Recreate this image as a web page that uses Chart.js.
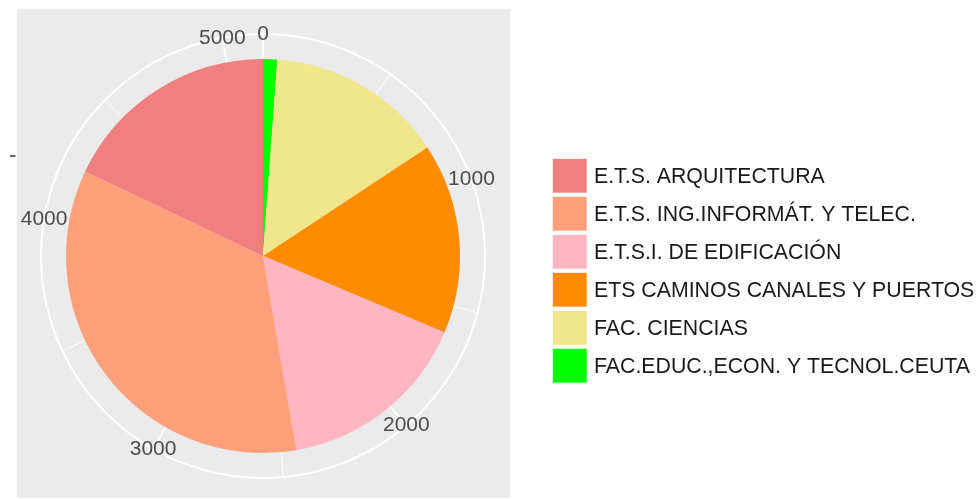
<!DOCTYPE html>
<html>
<head>
<meta charset="utf-8">
<script src="https://cdn.jsdelivr.net/npm/chart.js@4"></script>
<style>
  html, body { margin: 0; padding: 0; background: #ffffff; }
  #wrap { width: 978px; height: 499px; position: relative; }
</style>
</head>
<body>
<div id="wrap"><canvas id="myChart" width="978" height="499"></canvas></div>
<script>
// categories in legend order
const categories = [
    'E.T.S. ARQUITECTURA',
    'E.T.S. ING.INFORMÁT. Y TELEC.',
    'E.T.S.I. DE EDIFICACIÓN',
    'ETS CAMINOS CANALES Y PUERTOS',
    'FAC. CIENCIAS',
    'FAC.EDUC.,ECON. Y TECNOL.CEUTA'
];
const values = [924, 1791, 821, 806, 749, 60];
const colors = ['#F08080', '#FFA07A', '#FFB6C1', '#FF8C00', '#F0E68C', '#00FF00'];

// angular axis ticks
const majorTicks = [0, 1000, 2000, 3000, 4000, 5000];
const minorTicks = [500, 1500, 2500, 3500, 4500];

// pie is stacked clockwise from the top starting with the last category
const pieLabels = categories.slice().reverse();
const pieValues = values.slice().reverse();
const pieColors = colors.slice().reverse();
const total = values.reduce((a, b) => a + b, 0);

const FONT = "21px 'Liberation Sans', Arial, sans-serif";
const LEGEND_FONT = "21.3px 'Liberation Sans', Arial, sans-serif";

//
// panel background, polar grid and tick labels (ggplot look)
//
const polarGrid = {
    id: 'polarGrid',
    beforeDatasetsDraw(chart) {
        const ctx = chart.ctx;
        const arc = chart.getDatasetMeta(0).data[0];
        const cx = arc.x, cy = arc.y;
        const rOuter = arc.outerRadius + 25;
        ctx.save();
        ctx.fillStyle = '#EBEBEB';
        ctx.fillRect(17, 9, 493, 489);

        ctx.strokeStyle = '#FFFFFF';
        const ray = (v, w) => {
            const a = v / total * Math.PI * 2;
            ctx.lineWidth = w;
            ctx.beginPath();
            ctx.moveTo(cx, cy);
            ctx.lineTo(cx + rOuter * Math.sin(a), cy - rOuter * Math.cos(a));
            ctx.stroke();
        };
        minorTicks.forEach(v => ray(v, 1));
        majorTicks.forEach(v => ray(v, 2));

        ctx.lineWidth = 2;
        ctx.beginPath();
        ctx.arc(cx, cy, rOuter, 0, Math.PI * 2);
        ctx.stroke();

        // r axis tick (empty label)
        ctx.strokeStyle = '#333333';
        ctx.lineWidth = 1.5;
        ctx.beginPath();
        ctx.moveTo(10, 156);
        ctx.lineTo(15.5, 156);
        ctx.stroke();

        ctx.fillStyle = '#4D4D4D';
        ctx.font = FONT;
        ctx.textAlign = 'center';
        ctx.textBaseline = 'middle';
        majorTicks.forEach(v => {
            const a = v / total * Math.PI * 2;
            ctx.fillText(String(v), cx + rOuter * Math.sin(a), cy - rOuter * Math.cos(a));
        });
        ctx.restore();
    },
    afterDraw(chart) {
        // legend
        const ctx = chart.ctx;
        ctx.save();
        ctx.font = LEGEND_FONT;
        ctx.textAlign = 'left';
        ctx.textBaseline = 'middle';
        categories.forEach((c, i) => {
            const y = 158.5 + i * 38;
            ctx.fillStyle = colors[i];
            ctx.fillRect(552.5, y, 34.5, 34.5);
            ctx.strokeStyle = 'rgba(255,255,255,0.6)';
            ctx.lineWidth = 1;
            ctx.strokeRect(552.5, y, 34.5, 34.5);
            ctx.fillStyle = '#1A1A1A';
            ctx.fillText(c, 594, y + 18.5);
        });
        ctx.restore();
    }
};

var myChart = new Chart(document.getElementById('myChart').getContext('2d'), {
    type: 'pie',
    plugins: [polarGrid],
    data: {
        labels: pieLabels,
        datasets: [{
            data: pieValues,
            backgroundColor: pieColors,
            borderWidth: 0,
        }]
    },
    options: {
        responsive: false,
        animation: false,
        devicePixelRatio: 1,
        layout: {
            padding: { left: 66, right: 518, top: 59, bottom: 46 }
        },
        plugins: {
            legend: { display: false },
            tooltip: { enabled: false },
        },
    }
});
</script>
</body>
</html>
